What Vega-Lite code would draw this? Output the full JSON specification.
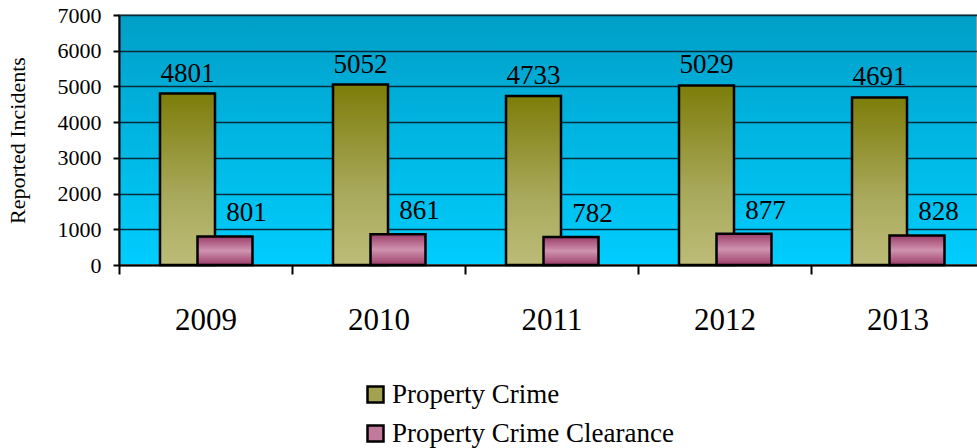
{
  "$schema": "https://vega.github.io/schema/vega-lite/v6.json",
  "autosize": {"type": "none"},
  "width": 858,
  "height": 250,
  "padding": {"left": 119, "top": 15, "right": 0, "bottom": 183},
  "background": "white",
  "config": {
    "font": "Liberation Serif",
    "view": {
      "stroke": "#9a9a9a",
      "strokeWidth": 2,
      "fill": {"gradient": "linear", "x1": 0, "y1": 0, "x2": 0, "y2": 1,
        "stops": [{"offset": 0, "color": "#009fc7"}, {"offset": 1, "color": "#00cdfe"}]}
    }
  },
  "data": {
    "values": [
      {"year": "2009", "series": "Property Crime", "value": 4801},
      {"year": "2010", "series": "Property Crime", "value": 5052},
      {"year": "2011", "series": "Property Crime", "value": 4733},
      {"year": "2012", "series": "Property Crime", "value": 5029},
      {"year": "2013", "series": "Property Crime", "value": 4691},
      {"year": "2009", "series": "Property Crime Clearance", "value": 801},
      {"year": "2010", "series": "Property Crime Clearance", "value": 861},
      {"year": "2011", "series": "Property Crime Clearance", "value": 782},
      {"year": "2012", "series": "Property Crime Clearance", "value": 877},
      {"year": "2013", "series": "Property Crime Clearance", "value": 828}
    ]
  },
  "encoding": {
    "x": {
      "field": "year", "type": "nominal",
      "scale": {"type": "band", "paddingInner": 0, "paddingOuter": 0, "range": [0, 865]},
      "axis": {
        "title": null, "labelAngle": 0, "labelFontSize": 31, "labelColor": "black",
        "labelPadding": 31, "tickBand": "extent", "tickSize": 9, "tickWidth": 2,
        "tickColor": "black", "domainColor": "black", "domainWidth": 2
      }
    },
    "y": {
      "field": "value", "type": "quantitative",
      "scale": {"domain": [0, 7000], "nice": false},
      "axis": {
        "title": "Reported Incidents", "titleFontSize": 22, "titleFontWeight": "normal",
        "titleColor": "black", "titlePadding": 28,
        "values": [0, 1000, 2000, 3000, 4000, 5000, 6000, 7000], "format": "d",
        "labelFontSize": 22, "labelColor": "black", "labelPadding": 12,
        "tickSize": 6, "tickWidth": 2, "tickColor": "black",
        "domainColor": "black", "domainWidth": 2,
        "grid": true, "gridColor": "#082c3a", "gridWidth": 1.3
      }
    }
  },
  "layer": [
    {
      "mark": {"type": "bar", "width": 55, "opacity": 0},
      "encoding": {
        "color": {
          "field": "series", "type": "nominal",
          "scale": {
            "domain": ["Property Crime", "Property Crime Clearance"],
            "range": ["#a2a250", "#c27a9c"]
          },
          "legend": {
            "title": null, "orient": "none", "legendX": 243, "legendY": 366,
            "direction": "vertical", "symbolType": "square", "symbolSize": 256,
            "symbolOpacity": 1, "symbolStrokeColor": "black", "symbolStrokeWidth": 2.5,
            "labelFontSize": 27, "labelColor": "black", "labelOffset": 3,
            "rowPadding": 11, "labelLimit": 500
          }
        }
      }
    },
    {
      "transform": [{"filter": "datum.series === 'Property Crime'"}],
      "mark": {"type": "bar", "width": 55, "xOffset": -18, "stroke": "black", "strokeWidth": 2.5,
        "fill": {"gradient": "linear", "x1": 0, "y1": 0, "x2": 0, "y2": 1,
          "stops": [{"offset": 0, "color": "#7d7d0a"}, {"offset": 0.6, "color": "#a9a95c"}, {"offset": 1, "color": "#bcbc78"}]}}
    },
    {
      "transform": [{"filter": "datum.series === 'Property Crime Clearance'"}],
      "mark": {"type": "bar", "width": 55, "xOffset": 19.5, "stroke": "black", "strokeWidth": 2.5,
        "fill": {"gradient": "linear", "x1": 0, "y1": 0, "x2": 0, "y2": 1,
          "stops": [{"offset": 0, "color": "#9c3d69"}, {"offset": 0.5, "color": "#cf93b0"}, {"offset": 1, "color": "#9c3d69"}]}}
    },
    {
      "transform": [{"filter": "datum.series === 'Property Crime'"}],
      "mark": {"type": "text", "fontSize": 27, "color": "black", "baseline": "alphabetic", "dx": -18, "dy": -12},
      "encoding": {"text": {"field": "value", "type": "quantitative", "format": "d"}}
    },
    {
      "transform": [{"filter": "datum.series === 'Property Crime Clearance'"}],
      "mark": {"type": "text", "fontSize": 27, "color": "black", "baseline": "alphabetic", "dx": 41, "dy": -15},
      "encoding": {"text": {"field": "value", "type": "quantitative", "format": "d"}}
    }
  ]
}
